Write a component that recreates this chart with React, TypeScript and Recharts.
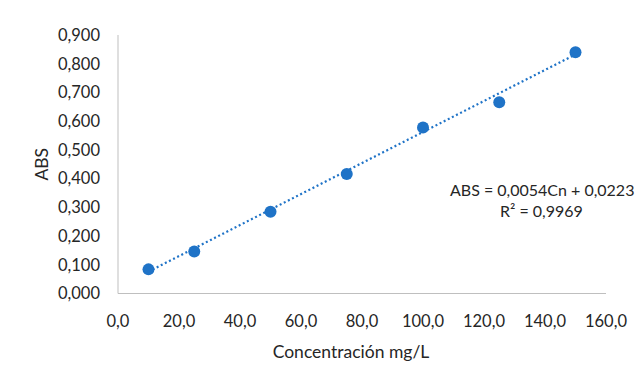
import React from "react";
import { ScatterChart, Scatter, XAxis, YAxis } from "recharts";

// calibration standards (mg/L) and measured absorbance
const concentrations = [10, 25, 50, 75, 100, 125, 150];
const absorbances = [0.084, 0.146, 0.285, 0.416, 0.578, 0.666, 0.84];

// linear fit shown on the chart: ABS = slope * Cn + intercept
const slope = 0.0054;
const intercept = 0.0223;

const xTicks = [0, 20, 40, 60, 80, 100, 120, 140, 160];
const yTicks = [0, 0.1, 0.2, 0.3, 0.4, 0.5, 0.6, 0.7, 0.8, 0.9];

const BLUE = "#1f73c7";
const FONT = "Lato, 'Open Sans', sans-serif";

const points = concentrations.map((c, i) => ({ x: c, y: absorbances[i] }));
const xFirst = concentrations[0];
const xLast = concentrations[concentrations.length - 1];
const trend = [
  { x: xFirst, y: slope * xFirst + intercept },
  { x: xLast, y: slope * xLast + intercept },
];

const fmt = (v: number, d: number) => v.toFixed(d).replace(".", ",");

export default function App() {
  const tickStyle = { fontSize: 16.5, fill: "#262626", fontFamily: FONT };
  return (
    <div style={{ position: "absolute", left: 0, top: 0, width: 644, height: 383, background: "#fff", fontFamily: FONT }}>
      <ScatterChart width={644} height={383} margin={{ top: 35, right: 38, left: 0, bottom: 25.5 }}>
        <XAxis
          type="number"
          dataKey="x"
          domain={[0, 160]}
          ticks={xTicks}
          tickFormatter={(v) => fmt(v, 1)}
          tick={tickStyle}
          tickLine={false}
          tickSize={6}
          tickMargin={16}
          height={64}
          stroke="#bfbfbf"
          interval={0}
          label={{ value: "Concentración mg/L", position: "insideBottom", offset: 0, dx: -11, style: { fontSize: 17.5, fill: "#262626", fontFamily: FONT } }}
        />
        <YAxis
          type="number"
          dataKey="y"
          domain={[0, 0.9]}
          ticks={yTicks}
          tickFormatter={(v) => fmt(v, 3)}
          tick={tickStyle}
          tickLine={false}
          tickSize={6}
          tickMargin={12}
          width={118}
          stroke="#bfbfbf"
          interval={0}
          label={{ value: "ABS", angle: -90, position: "center", dx: -17, style: { fontSize: 17.5, fill: "#262626", fontFamily: FONT } }}
        />
        <Scatter
          data={trend}
          line={{ stroke: BLUE, strokeWidth: 2.2, strokeDasharray: "2 2.6" }}
          shape={() => null}
          isAnimationActive={false}
        />
        <Scatter data={points} fill={BLUE} shape={(p: any) => <circle cx={p.cx} cy={p.cy} r={6} fill={BLUE} />} isAnimationActive={false} />
      </ScatterChart>
      <div style={{ position: "absolute", left: 450, top: 179, fontSize: 16, color: "#262626", whiteSpace: "nowrap", lineHeight: "21px" }}>
        ABS = 0,0054Cn + 0,0223
      </div>
      <div style={{ position: "absolute", left: 500, top: 200, fontSize: 16, color: "#262626", whiteSpace: "nowrap", lineHeight: "21px" }}>
        R² = 0,9969
      </div>
    </div>
  );
}
